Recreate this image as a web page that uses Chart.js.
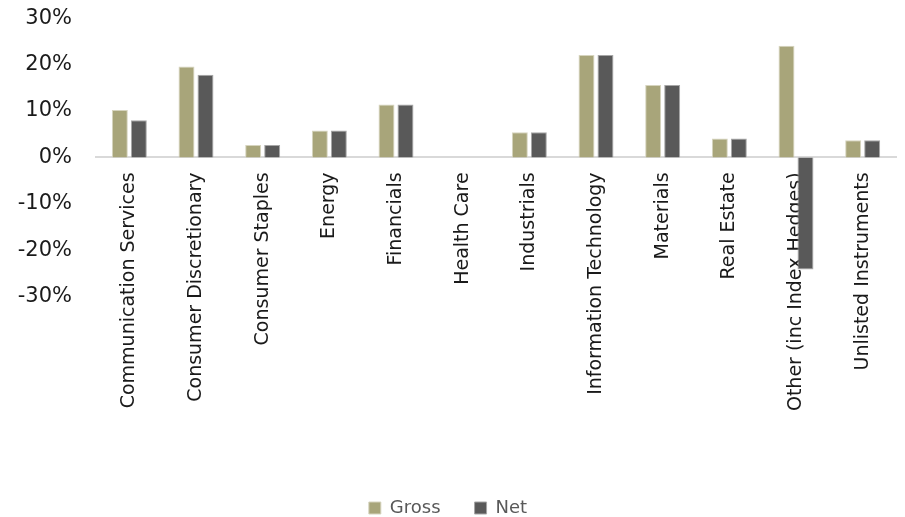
<!DOCTYPE html>
<html>
<head>
<meta charset="utf-8">
<script src="https://cdn.jsdelivr.net/npm/chart.js@4.4.1/dist/chart.umd.min.js"></script>
<style>
  html, body { margin: 0; padding: 0; background: #ffffff; }
  #wrap { width: 905px; height: 517px; position: relative; }
</style>
</head>
<body>
<div id="wrap"><canvas id="c"></canvas></div>
<script>
const categories = [
  "Communication Services", "Consumer Discretionary", "Consumer Staples", "Energy",
  "Financials", "Health Care", "Industrials", "Information Technology",
  "Materials", "Real Estate", "Other (inc Index Hedges)", "Unlisted Instruments"
];
const grossValues = [10.2, 19.6, 2.7, 5.8, 11.4, 0, 5.4, 22.1, 15.6, 4.1, 24.1, 3.7];
const netValues   = [8.0, 17.8, 2.7, 5.8, 11.4, 0, 5.4, 22.1, 15.6, 4.1, -24.2, 3.7];
const yTickValues = [-30, -20, -10, 0, 10, 20, 30];

const FONT = "'DejaVu Sans', sans-serif";

new Chart(document.getElementById('c'), {
  type: 'bar',
  data: {
    labels: categories,
    datasets: [
      { label: 'Gross', data: grossValues, backgroundColor: '#A8A57A', borderColor: '#D6D4BE', borderWidth: 1,
        categoryPercentage: 0.57, barPercentage: 0.84 },
      { label: 'Net', data: netValues, backgroundColor: '#595959', borderColor: '#A6A6A6', borderWidth: 1,
        categoryPercentage: 0.57, barPercentage: 0.84 }
    ]
  },
  options: {
    responsive: true,
    maintainAspectRatio: false,
    animation: false,
    layout: { padding: { left: 0, right: 9, top: 18.3, bottom: -10 } },
    plugins: {
      legend: {
        position: 'bottom',
        labels: {
          boxWidth: 12, boxHeight: 12, padding: 34,
          color: '#595959',
          font: { family: FONT, size: 18 }
        }
      },
      tooltip: { enabled: false }
    },
    scales: {
      x: {
        position: { y: 0 },
        z: 1,
        grid: { display: false, drawTicks: false },
        border: { display: true, color: '#D9D9D9', width: 2 },
        ticks: {
          autoSkip: false, maxRotation: 90, minRotation: 90,
          color: '#1a1a1a', padding: 15,
          font: { family: FONT, size: 19 }
        }
      },
      spacer: {
        type: 'category',
        labels: categories,
        position: 'bottom',
        afterFit: (s) => { s.height = 168.5; },
        grid: { display: false, drawTicks: false },
        border: { display: false },
        ticks: { display: false }
      },
      y: {
        min: -30, max: 30,
        afterFit: (s) => { s.width = 96; s.paddingTop = 0; s.paddingBottom = 0; },
        afterBuildTicks: (s) => { s.ticks = yTickValues.map(v => ({ value: v })); },
        grid: { display: false, drawTicks: false },
        border: { display: false },
        ticks: {
          color: '#1a1a1a', padding: 24,
          font: { family: FONT, size: 21 },
          callback: (v) => v + '%'
        }
      }
    }
  }
});
</script>
</body>
</html>
